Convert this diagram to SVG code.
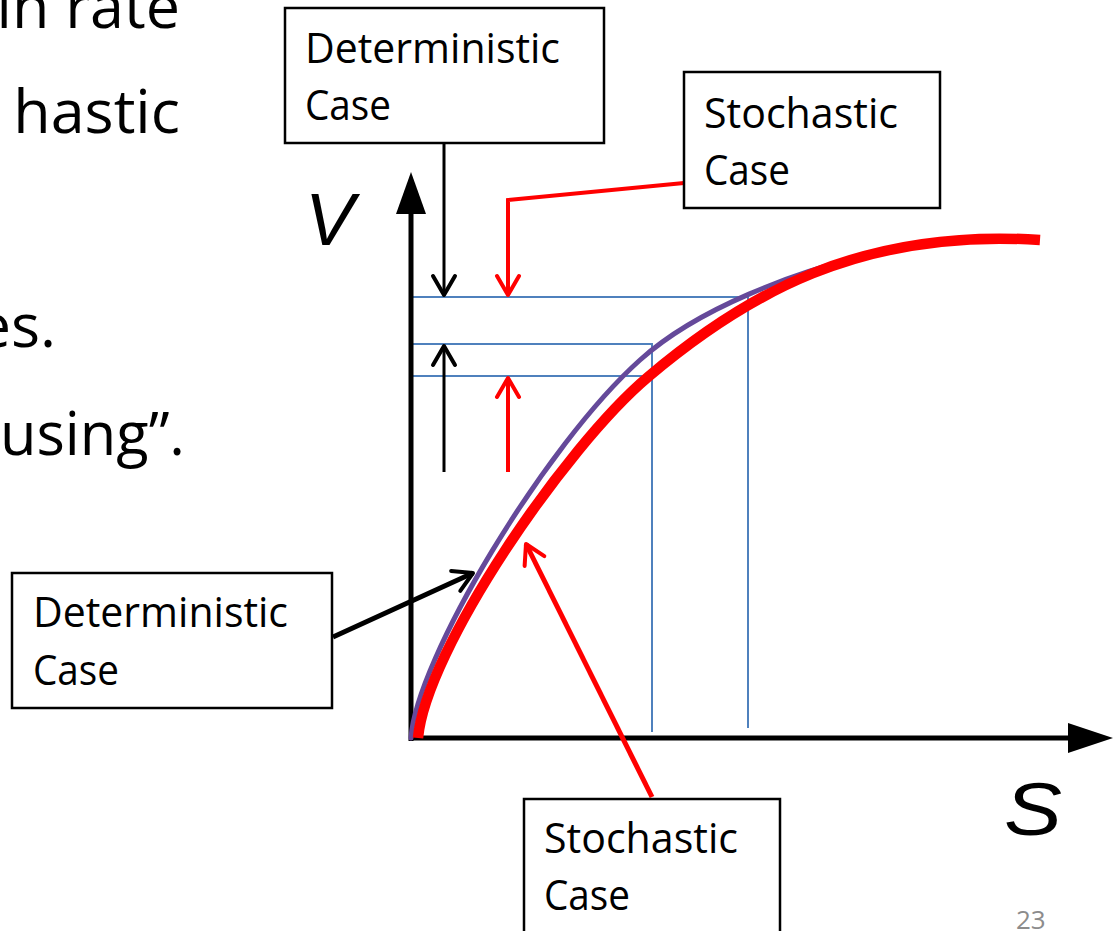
<svg xmlns="http://www.w3.org/2000/svg" width="1116" height="931" viewBox="0 0 1116 931">
<style>
.bg{fill:#ffffff}
.box{fill:#ffffff;stroke:#000000;stroke-width:2.5}
.lbl{font-family:"Open Sans","Liberation Sans",sans-serif;font-size:42px;fill:#000000}
.side{font-family:"Open Sans","Liberation Sans",sans-serif;font-size:61px;fill:#000000}
.axlbl{font-family:"Liberation Sans",Arial,sans-serif;font-style:italic;font-size:74px;fill:#000000}
.pg{font-family:"Open Sans","Liberation Sans",sans-serif;font-size:26px;fill:#8c8c8c}
.axis{stroke:#000000;stroke-width:5;fill:none}
.guide{stroke:#4f81bd;stroke-width:2;fill:none}
.det{stroke:#65499a;stroke-width:5;fill:none;stroke-linecap:round}
.sto{stroke:#ff0000;stroke-width:10.5;fill:none}
.cb{stroke:#000000;fill:none}
.cr{stroke:#ff0000;fill:none}
</style>
<defs>
<marker id="headB" markerUnits="userSpaceOnUse" viewBox="-30 -20 40 40" markerWidth="40" markerHeight="40" refX="0" refY="0" orient="auto" overflow="visible">
<path d="M-19,-11 L0,0 L-19,11" fill="none" stroke="#000000" stroke-width="4" stroke-linecap="round" stroke-linejoin="round"/>
</marker>
<marker id="headR" markerUnits="userSpaceOnUse" viewBox="-30 -20 40 40" markerWidth="40" markerHeight="40" refX="0" refY="0" orient="auto" overflow="visible">
<path d="M-19,-11 L0,0 L-19,11" fill="none" stroke="#ff0000" stroke-width="4" stroke-linecap="round" stroke-linejoin="round"/>
</marker>
</defs>
<rect class="bg" x="0" y="0" width="1116" height="931"/>

<g id="side-text">
<text class="side" x="180" y="28" text-anchor="end">in rate</text>
<text class="side" x="180" y="133" text-anchor="end">hastic</text>
<text class="side" x="56" y="347" text-anchor="end">es.</text>
<text class="side" x="0" y="455" textLength="185" lengthAdjust="spacingAndGlyphs">using”.</text>
</g>

<g id="chart">
<line class="guide" x1="412" y1="297" x2="748" y2="297"/>
<line class="guide" x1="748" y1="297" x2="748" y2="728"/>
<polyline class="guide" points="412,344 652,344 652,732"/>
<line class="guide" x1="412" y1="376" x2="648" y2="376"/>
<line class="axis" x1="411" y1="741" x2="411" y2="210"/>
<polygon points="411,172 396,214 426,214" fill="#000000"/>
<line class="axis" x1="409" y1="738" x2="1072" y2="738"/>
<polygon points="1113,738 1068,723 1068,753" fill="#000000"/>
<text class="axlbl" x="305" y="245">V</text>
<text class="axlbl" x="1004" y="835" textLength="58" lengthAdjust="spacingAndGlyphs">S</text>
<path id="det-curve" class="det" d="M411,738 C416,660 545,445 640,360 C700,306 800,272 852,259"/>
<path id="sto-curve" class="sto" d="M418,738 C426,650 565,447 648,377 C745,295 860,228 1040,240"/>
</g>

<g id="connectors">
<line class="cb" stroke-width="3" x1="444" y1="143" x2="444" y2="295" marker-end="url(#headB)"/>
<line class="cb" stroke-width="3" x1="444" y1="472" x2="444" y2="346" marker-end="url(#headB)"/>
<polyline class="cr" stroke-width="4" points="684,183 508,200 508,295" marker-end="url(#headR)"/>
<line class="cr" stroke-width="4" x1="508" y1="472" x2="508" y2="378" marker-end="url(#headR)"/>
<line class="cb" stroke-width="5" x1="333" y1="637" x2="473" y2="573" marker-end="url(#headB)"/>
<line class="cr" stroke-width="5" x1="652" y1="797" x2="526" y2="544" marker-end="url(#headR)"/>
</g>

<g id="box-det-top">
<rect class="box" x="285" y="8" width="319" height="135"/>
<text class="lbl" x="305" y="63" textLength="255" lengthAdjust="spacingAndGlyphs">Deterministic</text>
<text class="lbl" x="305" y="120" textLength="86" lengthAdjust="spacingAndGlyphs">Case</text>
</g>
<g id="box-sto-top">
<rect class="box" x="684" y="72" width="256" height="136"/>
<text class="lbl" x="704" y="128" textLength="194" lengthAdjust="spacingAndGlyphs">Stochastic</text>
<text class="lbl" x="704" y="185" textLength="86" lengthAdjust="spacingAndGlyphs">Case</text>
</g>
<g id="box-det-left">
<rect class="box" x="12" y="573" width="320" height="135"/>
<text class="lbl" x="33" y="627" textLength="255" lengthAdjust="spacingAndGlyphs">Deterministic</text>
<text class="lbl" x="33" y="685" textLength="86" lengthAdjust="spacingAndGlyphs">Case</text>
</g>
<g id="box-sto-bottom">
<rect class="box" x="524" y="799" width="256" height="150"/>
<text class="lbl" x="544" y="853" textLength="194" lengthAdjust="spacingAndGlyphs">Stochastic</text>
<text class="lbl" x="544" y="910" textLength="86" lengthAdjust="spacingAndGlyphs">Case</text>
</g>

<g id="page-number">
<text class="pg" x="1016" y="929">23</text>
</g>
</svg>
